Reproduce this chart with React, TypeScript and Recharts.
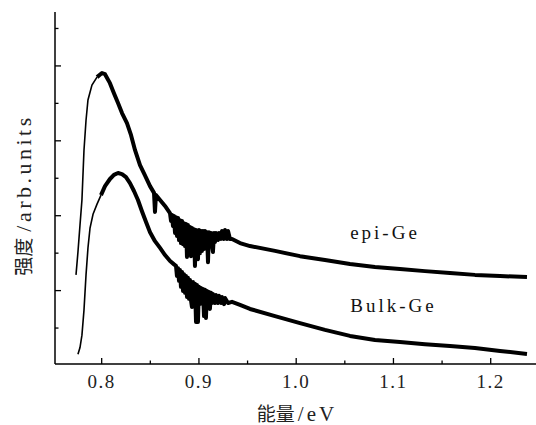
import React from 'react';
import { LineChart, Line, XAxis, YAxis, ReferenceDot } from 'recharts';

// photon energy (eV) and PL intensity (arb. units)
const epiEnergy = [
  0.7736, 0.7756, 0.7777, 0.7797, 0.7818, 0.7839, 0.7859, 0.79, 0.7952, 0.8003,
  0.8034, 0.8085, 0.8126, 0.8168, 0.8209, 0.826, 0.8302, 0.8343, 0.8394, 0.8445,
  0.8497, 0.8538, 0.8548, 0.8558, 0.86, 0.8651,
  0.8702, 0.8713, 0.8723, 0.8733, 0.8743, 0.8754, 0.8764, 0.8774, 0.8785, 0.8795,
  0.8805, 0.8815, 0.8826, 0.8836, 0.8846, 0.8857, 0.8867, 0.8877, 0.8887, 0.8898,
  0.8908, 0.8918, 0.8928, 0.8939, 0.8949, 0.8959, 0.897, 0.898, 0.899, 0.9,
  0.9011, 0.9021, 0.9031, 0.9041, 0.9052, 0.9062, 0.9072, 0.9083, 0.9093, 0.9103,
  0.9113, 0.9124, 0.9134, 0.9144, 0.9155, 0.9165, 0.9175, 0.9196, 0.9206, 0.9227,
  0.9237, 0.9258, 0.9268, 0.9288, 0.9299, 0.9319, 0.934,
  0.9422, 0.9525, 0.9782, 1.0039, 1.0296, 1.0553, 1.081, 1.1067, 1.1324, 1.1581,
  1.1838, 1.2096, 1.2373,
];
const epiIntensity = [
  2.42, 3.03, 3.75, 4.42, 5.75, 6.55, 7.09, 7.49, 7.7, 7.81,
  7.78, 7.54, 7.27, 7.01, 6.74, 6.47, 6.15, 5.75, 5.35, 5.08,
  4.79, 4.61, 4.1, 4.55, 4.42, 4.26,
  4.07, 3.86, 4.02, 3.72, 3.99, 3.54, 3.96, 3.46, 3.94, 3.35,
  3.88, 3.27, 3.86, 3.24, 3.8, 3.19, 3.78, 2.9, 3.75, 3.14,
  3.7, 2.92, 3.67, 3.06, 3.64, 2.66, 3.62, 3.03, 2.84, 3.62,
  3.0, 3.59, 3.06, 3.59, 3.11, 3.59, 3.14, 3.56, 2.76, 3.56,
  3.19, 3.54, 3.24, 3.03, 3.54, 3.3, 3.54, 3.35, 3.54, 3.38,
  3.59, 3.38, 3.62, 3.38, 3.59, 3.38, 3.38,
  3.27, 3.19, 3.06, 2.92, 2.82, 2.71, 2.63, 2.58, 2.52, 2.47,
  2.42, 2.39, 2.36,
];
const bulkEnergy = [
  0.7756, 0.7777, 0.7797, 0.7818, 0.7839, 0.7859, 0.788, 0.7911, 0.7952, 0.7993,
  0.8034, 0.8085, 0.8126, 0.8168, 0.8209, 0.825, 0.8291, 0.8332, 0.8373, 0.8414,
  0.8456, 0.8497, 0.8548, 0.86, 0.8651, 0.8703, 0.8744,
  0.8764, 0.8774, 0.8785, 0.8795, 0.8805, 0.8815, 0.8826, 0.8836, 0.8846, 0.8857,
  0.8867, 0.8877, 0.8887, 0.8898, 0.8908, 0.8918, 0.8928, 0.8939, 0.8949, 0.8959,
  0.897, 0.898, 0.899, 0.9, 0.9011, 0.9021, 0.9031, 0.9041, 0.9052, 0.9062,
  0.9072, 0.9083, 0.9093, 0.9103, 0.9113, 0.9124, 0.9134, 0.9144, 0.9165, 0.9175,
  0.9196, 0.9206, 0.9227, 0.9237, 0.9258, 0.9268, 0.9299, 0.934,
  0.9422, 0.9525, 0.9782, 1.0039, 1.0296, 1.0553, 1.081, 1.1067, 1.1324, 1.1581,
  1.1838, 1.2096, 1.2373,
];
const bulkIntensity = [
  0.3, 0.48, 0.81, 1.48, 2.42, 3.14, 3.67, 4.04, 4.31, 4.55,
  4.79, 4.98, 5.09, 5.14, 5.11, 5.03, 4.87, 4.66, 4.42, 4.12,
  3.83, 3.56, 3.32, 3.14, 2.95, 2.79, 2.7,
  2.66, 2.39, 2.6, 2.26, 2.55, 2.1, 2.5, 1.99, 2.44, 1.94,
  2.39, 1.83, 2.34, 1.78, 2.28, 1.75, 1.56, 2.23, 1.72, 2.18,
  1.16, 2.15, 1.16, 2.1, 1.64, 2.07, 1.7, 2.04, 1.32, 2.02,
  1.27, 1.99, 1.64, 1.96, 1.51, 1.94, 1.67, 1.91, 1.67, 1.88,
  1.67, 1.86, 1.67, 1.83, 1.64, 1.8, 1.67, 1.7,
  1.62, 1.51, 1.32, 1.13, 0.95, 0.79, 0.68, 0.63, 0.57, 0.52,
  0.47, 0.39, 0.31,
];

const energyTicks = [0.8, 0.85, 0.9, 0.95, 1.0, 1.05, 1.1, 1.15, 1.2];
const intensityTicks = [1, 2, 3, 4, 5, 6, 7, 8, 9];

// where the thin rising edge ends and the noisy, thicker trace begins
const epiSplit = 8;
const bulkSplit = 9;

const toPoints = (xs: number[], ys: number[]) => xs.map((x, i) => ({ x, y: ys[i] }));
const epiData = toPoints(epiEnergy, epiIntensity);
const bulkData = toPoints(bulkEnergy, bulkIntensity);

const serif = '"Liberation Serif", "Times New Roman", serif';
const cjk = '"Noto Sans CJK SC", sans-serif';

const XTick = ({ x, y, payload }: any) => {
  const v = payload.value;
  const major = Math.round(v * 100) % 10 === 0;
  return (
    <g>
      <line x1={x} y1={y} x2={x} y2={y - (major ? 6 : 3.5)} stroke="#000" strokeWidth={1.3} />
      {major && (
        <text x={x} y={y + 24} textAnchor="middle" fill="#222"
          style={{ fontFamily: serif, fontSize: 19, letterSpacing: 1.5 }}>
          {v.toFixed(1)}
        </text>
      )}
    </g>
  );
};

const YTick = ({ x, y, payload }: any) => {
  const major = payload.value % 2 === 0;
  return <line x1={x} y1={y} x2={x + (major ? 6 : 3.5)} y2={y} stroke="#000" strokeWidth={1.3} />;
};

const TextMark = (text: string) => (props: any) => (
  <text x={props.cx} y={props.cy} textAnchor="middle" fill="#111"
    style={{ fontFamily: serif, fontSize: 19, letterSpacing: 3 }}>
    {text}
  </text>
);

export default function App() {
  return (
    <div style={{ position: 'absolute', left: 0, top: 0, background: '#fff' }}>
      <LineChart width={540} height={425} margin={{ top: 12, right: 3, left: 0, bottom: 0 }}>
        <XAxis
          dataKey="x"
          type="number"
          domain={[0.752, 1.2476]}
          allowDataOverflow
          ticks={energyTicks}
          interval={0}
          height={61}
          tickSize={0}
          tickMargin={0}
          tick={<XTick />}
          axisLine={{ stroke: '#000', strokeWidth: 1.5 }}
          label={{
            content: () => (
              <text x={297} y={421} textAnchor="middle" fill="#222">
                <tspan style={{ fontFamily: cjk, fontSize: 19 }}>能量</tspan>
                <tspan dx={3} style={{ fontFamily: serif, fontSize: 21, letterSpacing: 3 }}>/eV</tspan>
              </text>
            ),
          }}
        />
        <XAxis
          xAxisId="top"
          orientation="top"
          dataKey="x"
          type="number"
          domain={[0.752, 1.2476]}
          height={0}
          tick={false}
          tickLine={false}
          axisLine={{ stroke: '#000', strokeWidth: 1.5 }}
        />
        <YAxis
          type="number"
          domain={[0.04, 9.44]}
          allowDataOverflow
          ticks={intensityTicks}
          interval={0}
          width={55}
          tickSize={0}
          tickMargin={0}
          tick={<YTick />}
          axisLine={{ stroke: '#000', strokeWidth: 1.5 }}
          label={{
            content: () => (
              <text x={0} y={0} transform="translate(31,195) rotate(-90)" textAnchor="middle" fill="#222">
                <tspan style={{ fontFamily: cjk, fontSize: 19 }}>强度</tspan>
                <tspan dx={6} style={{ fontFamily: serif, fontSize: 22, letterSpacing: 3.5 }}>/arb.units</tspan>
              </text>
            ),
          }}
        />
        <Line data={epiData.slice(0, epiSplit + 1)} dataKey="y" type="linear" dot={false} stroke="#000" strokeWidth={1.6} isAnimationActive={false} />
        <Line data={epiData.slice(epiSplit)} dataKey="y" type="linear" dot={false} stroke="#000" strokeWidth={4} strokeLinejoin="round" isAnimationActive={false} />
        <Line data={bulkData.slice(0, bulkSplit + 1)} dataKey="y" type="linear" dot={false} stroke="#000" strokeWidth={1.6} isAnimationActive={false} />
        <Line data={bulkData.slice(bulkSplit)} dataKey="y" type="linear" dot={false} stroke="#000" strokeWidth={4} strokeLinejoin="round" isAnimationActive={false} />
        <ReferenceDot x={1.0913} y={3.38} r={0} shape={TextMark('epi-Ge')} />
        <ReferenceDot x={1.1} y={1.43} r={0} shape={TextMark('Bulk-Ge')} />
      </LineChart>
    </div>
  );
}
